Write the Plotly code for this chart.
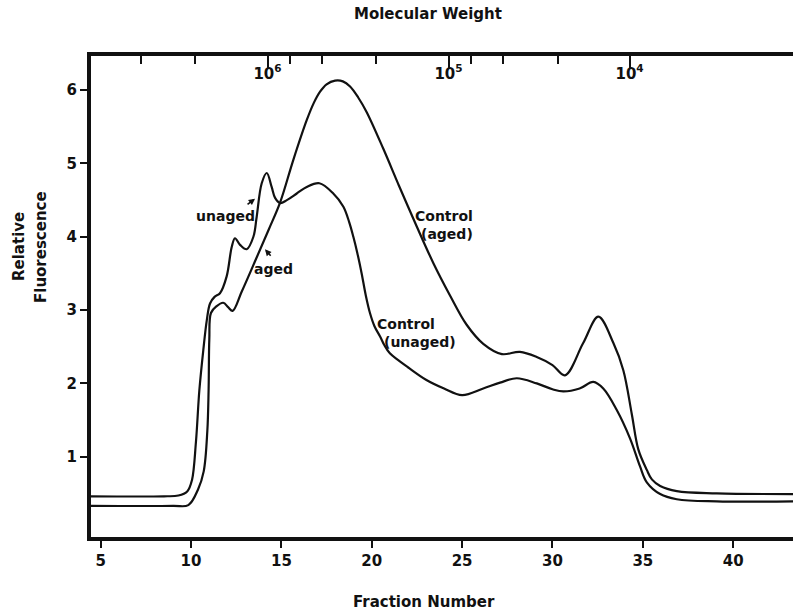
import plotly.graph_objects as go

# Fraction number vs relative fluorescence
unaged_fraction = [4.3, 8.5, 9.3, 9.8, 10.05, 10.27, 10.46, 10.68, 10.87, 11.05, 11.3, 11.6,
                   11.97, 12.25, 12.43, 12.71, 13.08, 13.45, 13.63, 13.91, 14.19, 14.46, 14.65,
                   14.93, 15.3, 15.85, 16.4, 17.1, 17.87, 18.43, 18.75, 18.98, 19.2, 19.44,
                   19.67, 19.9, 20.15, 20.46, 20.7, 21.0, 21.5, 22.0, 23.0, 24.0, 25.0, 26.17,
                   27.1, 28.02, 29.13, 30.0, 30.6, 31.5, 32.26, 32.81, 33.55, 34.29, 34.84,
                   35.22, 35.96, 36.88, 39.09, 43.4]
unaged_fluor = [0.46, 0.46, 0.47, 0.53, 0.68, 1.2, 1.91, 2.46, 2.86, 3.09, 3.18, 3.23,
                3.46, 3.86, 3.98, 3.89, 3.83, 4.0, 4.27, 4.73, 4.87, 4.68, 4.53,
                4.46, 4.5, 4.59, 4.68, 4.73, 4.59, 4.41, 4.2, 4.0, 3.78, 3.5,
                3.2, 2.96, 2.78, 2.64, 2.52, 2.41, 2.31, 2.22, 2.05, 1.93, 1.84, 1.93,
                2.01, 2.07, 2.0, 1.92, 1.89, 1.93, 2.02, 1.93, 1.64, 1.25, 0.87,
                0.65, 0.49, 0.42, 0.39, 0.39]

aged_fraction = [4.3, 9.0, 9.85, 10.38, 10.7, 10.9, 10.97, 11.01, 11.1, 11.4, 11.78, 12.05,
                 12.3, 12.8, 13.6, 14.3, 14.93, 15.66, 16.4, 16.8, 17.14, 17.5, 17.97, 18.4,
                 18.8, 19.25, 19.72, 20.64, 21.5, 22.49, 23.41, 24.33, 25.25, 26.17, 27.2,
                 28.2, 29.13, 30.0, 30.69, 31.7, 32.54, 33.37, 33.92, 34.39, 34.75, 35.22,
                 35.5, 35.96, 36.88, 39.09, 43.4]
aged_fluor = [0.33, 0.33, 0.34, 0.55, 0.8, 1.35, 1.9, 2.6, 2.96, 3.05, 3.10, 3.04,
              2.99, 3.25, 3.7, 4.1, 4.47, 5.05, 5.59, 5.83, 5.98, 6.08, 6.13, 6.12,
              6.05, 5.9, 5.7, 5.2, 4.7, 4.14, 3.64, 3.2, 2.8, 2.54, 2.4,
              2.43, 2.36, 2.25, 2.11, 2.55, 2.91, 2.55, 2.18, 1.58, 1.1, 0.82,
              0.69, 0.6, 0.53, 0.50, 0.49]

fraction_ticks = [5, 10, 15, 20, 25, 30, 35, 40]
fluor_ticks = [1, 2, 3, 4, 5, 6]
mw_major = [1e6, 1e5, 1e4]
mw_major_text = ["10<sup>6</sup>", "10<sup>5</sup>", "10<sup>4</sup>"]
mw_minor = [5e6, 2.5e6, 7.5e5, 5e5, 2.5e5, 7.5e4, 5e4, 2.5e4]

FONT = "DejaVu Sans"
BLACK = "#111111"
W, H = 793, 611
L, T, B, R = 91, 56, 74, 0

fig = go.Figure()
for fx, fy in [(unaged_fraction, unaged_fluor), (aged_fraction, aged_fluor)]:
    fig.add_trace(go.Scatter(x=fx, y=fy, mode="lines",
                             line=dict(color=BLACK, width=2.2, shape="spline", smoothing=1.0),
                             showlegend=False, hoverinfo="skip"))

# invisible trace so the molecular-weight axis is drawn
fig.add_trace(go.Scatter(x=[1e6], y=[None], xaxis="x2", showlegend=False, hoverinfo="skip"))

tick_font = dict(size=15, family=FONT, color=BLACK, weight="bold")
fig.update_layout(
    width=W, height=H,
    margin=dict(l=L, r=R, t=T, b=B),
    paper_bgcolor="white", plot_bgcolor="white",
    font=dict(family=FONT, color=BLACK, size=15, weight="bold"),
    xaxis=dict(range=[4.463, 43.31], tickvals=fraction_ticks, showgrid=False, zeroline=False,
               showline=True, linewidth=4, linecolor=BLACK, ticks="outside", ticklen=7,
               tickwidth=2, tickcolor=BLACK, tickfont=tick_font),
    yaxis=dict(range=[-0.0955, 6.466], tickvals=fluor_ticks, showgrid=False, zeroline=False,
               showline=True, linewidth=4, linecolor=BLACK, ticks="outside", ticklen=7,
               tickwidth=2, tickcolor=BLACK, tickfont=tick_font),
    xaxis2=dict(type="log", overlaying="x", side="top", range=[6.975, 3.097],
                tickvals=mw_major, ticktext=mw_major_text, showgrid=False, zeroline=False,
                showline=True, linewidth=4, linecolor=BLACK, ticks="inside", ticklen=12,
                tickwidth=2, tickcolor=BLACK, ticklabelposition="inside",
                tickfont=tick_font,
                minor=dict(tickvals=mw_minor, ticks="inside", ticklen=8, tickwidth=2,
                           tickcolor=BLACK, showgrid=False)),
)

def note(text, x, y, size=14, **kw):
    fig.add_annotation(text=text, x=x, y=y, xref="x", yref="y", showarrow=False,
                       font=dict(family=FONT, size=size, color=BLACK, weight="bold"), **kw)

note("unaged", 11.89, 4.29)
note("aged", 14.58, 3.56)
note("Control", 24.0, 4.28)
note("(aged)", 24.17, 4.04)
note("Control", 21.9, 2.81)
note("(unaged)", 22.67, 2.57)

# small pointers from the labels to the curves
for hx, hy, ax, ay in [(13.54, 4.52, -9, 7), (14.09, 3.83, 7, 8)]:
    fig.add_annotation(x=hx, y=hy, xref="x", yref="y", text="", showarrow=True,
                       ax=ax, ay=ay, arrowhead=2, arrowsize=0.8, arrowwidth=1.6,
                       arrowcolor=BLACK)

def title(text, px, py, angle=0, size=15):
    pw, ph = W - L - R, H - T - B
    fig.add_annotation(text=text, x=(px - L) / pw, y=(H - py - B) / ph,
                       xref="paper", yref="paper", showarrow=False,
                       textangle=angle, xanchor="center", yanchor="middle",
                       font=dict(family=FONT, size=size, color=BLACK, weight="bold"))

title("Molecular Weight", 428, 14, size=15)
title("Fraction Number", 424, 602, size=15)
title("Relative", 19, 247, angle=-90, size=15)
title("Fluorescence", 41, 247, angle=-90, size=15)

fig.write_html("out.html")
